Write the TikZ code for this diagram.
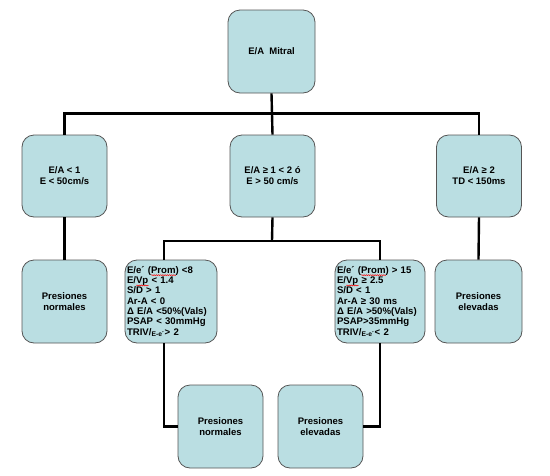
\documentclass[tikz,border=0pt]{standalone}
\usepackage{fontspec}
\setmainfont{Liberation Sans}
\usetikzlibrary{decorations.pathmorphing}
\definecolor{boxfill}{RGB}{186,222,226}
\definecolor{boxline}{RGB}{85,85,85}
\newlength\sqw
\newcommand{\squig}[1]{\settowidth\sqw{#1}\smash{\rlap{\tikz[baseline=0pt,x=1pt,y=1pt]\draw[red,line width=0.5pt,rounded corners=0pt,decorate,decoration={snake,amplitude=0.5pt,segment length=2.2pt}] (0,-1.8) -- (\sqw,-1.8);}}#1}
\begin{document}
\begin{tikzpicture}[x=1pt,y=-1pt,
  box/.style={draw=boxline,line width=0.8pt,fill=boxfill,rounded corners=12pt,
    font=\bfseries\fontsize{9.5}{11}\selectfont,align=center,inner sep=2pt},
  listbox/.style={box,align=left,font=\bfseries\fontsize{9.6}{10.3}\selectfont,inner sep=2pt},
  conn/.style={line width=2.4pt,black}]
\useasboundingbox (0,0) rectangle (550,475);
\node[box,minimum width=87pt,minimum height=83pt] (top) at (271.5,51.5) {E/A\ \ Mitral};
\node[box,minimum width=85pt,minimum height=82pt] (aL) at (64.5,176) {E/A < 1\\E < 50cm/s};
\node[box,minimum width=85pt,minimum height=82pt] (aM) at (272.5,176) {E/A ≥ 1 < 2 ó\\E > 50 cm/s};
\node[box,minimum width=85pt,minimum height=82pt] (aR) at (479,176) {E/A ≥ 2\\TD < 150ms};
\node[box,minimum width=85pt,minimum height=83pt] (bL) at (64.5,301.5) {Presiones\\normales};
\node[box,minimum width=87pt,minimum height=83pt] (bR) at (478.5,301.5) {Presiones\\elevadas};
\node[listbox,minimum width=92pt,minimum height=83pt,text width=88pt] (lL) at (171,301.5) {E/e´ (\squig{Prom}) <8\\E/\squig{Vp} < 1.4\\S/D > 1\\Ar-A < 0\\Δ E/A <50\%(Vals)\\PSAP < 30mmHg\\TRIV/\textsubscript{E-e´}> 2};
\node[listbox,minimum width=90pt,minimum height=83pt,text width=86pt] (lR) at (380,301.5) {E/e´ (\squig{Prom}) > 15\\E/\squig{Vp} ≥ 2.5\\S/D < 1\\Ar-A ≥ 30 ms\\Δ E/A >50\%(Vals)\\PSAP>35mmHg\\TRIV/\textsubscript{E-e´}< 2};
\node[box,minimum width=85pt,minimum height=83pt] (cL) at (220.5,426.5) {Presiones\\normales};
\node[box,minimum width=85pt,minimum height=83pt] (cR) at (320.5,426.5) {Presiones\\elevadas};
\coordinate (h1) at (272,113.5);
\coordinate (h2) at (272,241);
\draw[conn] (top.south) -- (h1);
\draw[conn] (h1) -| (aL.north);
\draw[conn] (h1) -| (aR.north);
\draw[conn] (h1) -- (aM.north);
\draw[conn] (aL.south) -- (bL.north);
\draw[conn] (aR.south) -- (bR.north);
\draw[conn] (aM.south) -- (h2);
\draw[conn] (h2) -| ([xshift=-7pt]lL.north);
\draw[conn] (h2) -| (lR.north);
\draw[conn] ([xshift=-7pt]lL.south) |- (cL.west);
\draw[conn] (lR.south) |- (cR.east);
\end{tikzpicture}
\end{document}
